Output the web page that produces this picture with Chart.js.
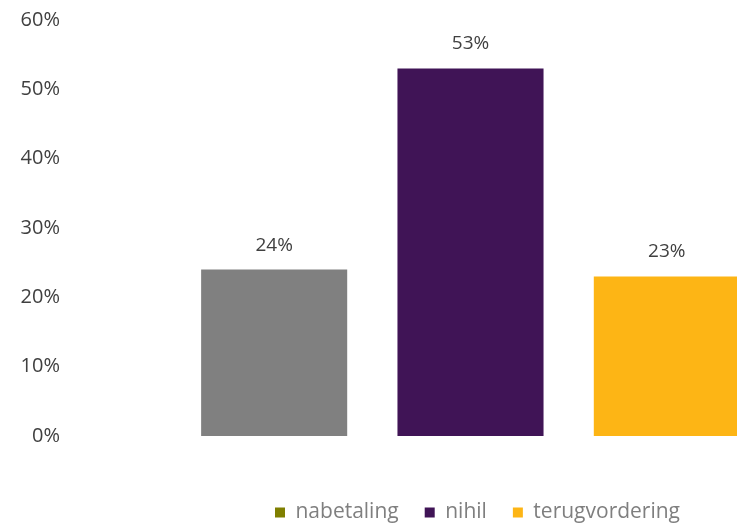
<!DOCTYPE html>
<html>
<head>
<meta charset="utf-8">
<script src="https://cdn.jsdelivr.net/npm/chart.js@4/dist/chart.umd.min.js"></script>
<style>
  html, body { margin: 0; padding: 0; background: #fff; overflow: hidden; }
  #wrap { width: 770px; height: 533px; }
</style>
</head>
<body>
<div id="wrap"><canvas id="chart1"></canvas></div>
<script>
// gegevens uit de figuur
const categories = ['nabetaling', 'nihil', 'terugvordering'];
const nabetaling = [24, null, null];
const nihil = [null, 53, null];
const terugvordering = [null, null, 23];
const yTicks = [0, 10, 20, 30, 40, 50, 60];

const barColors = ['#808080', '#401456', '#fdb515'];
const legendColors = ['#7f7f00', '#401456', '#fdb515'];

// labels boven de staven
const valueLabels = {
  id: 'valueLabels',
  afterDatasetsDraw(chart) {
    const ctx = chart.ctx;
    ctx.save();
    ctx.font = '19px "Open Sans", sans-serif';
    ctx.fillStyle = '#404040';
    ctx.textAlign = 'center';
    ctx.textBaseline = 'bottom';
    chart.data.datasets.forEach((ds, i) => {
      const meta = chart.getDatasetMeta(i);
      meta.data.forEach((bar, j) => {
        const v = ds.data[j];
        if (v === null || v === undefined) return;
        ctx.fillText(v + '%', bar.x, bar.y - 15);
      });
    });
    ctx.restore();
  }
};

// legenda staat onder het plotgebied, niet onder het hele canvas
const shiftLegend = {
  id: 'shiftLegend',
  afterLayout(chart) {
    chart.legend.left += 95;
    chart.legend.right += 95;
  }
};

const ctx = document.getElementById('chart1').getContext('2d');
new Chart(ctx, {
  type: 'bar',
  data: {
    labels: categories,
    datasets: [
      { label: 'nabetaling', data: nabetaling, backgroundColor: barColors[0] },
      { label: 'nihil', data: nihil, backgroundColor: barColors[1] },
      { label: 'terugvordering', data: terugvordering, backgroundColor: barColors[2] }
    ]
  },
  options: {
    responsive: true,
    maintainAspectRatio: false,
    animation: false,
    grouped: false,
    categoryPercentage: 1,
    barPercentage: 0.744,
    layout: { padding: { top: 20, right: 5, left: 0, bottom: 0 } },
    plugins: {
      tooltip: { enabled: false },
      legend: {
        position: 'bottom',
        labels: {
          boxWidth: 10,
          boxHeight: 10,
          padding: 26,
          color: '#7f7f7f',
          font: { family: '"Open Sans", sans-serif', size: 21 },
          generateLabels(chart) {
            return chart.data.datasets.map((ds, i) => ({
              text: ds.label,
              fillStyle: legendColors[i],
              strokeStyle: legendColors[i],
              lineWidth: 0,
              fontColor: '#7f7f7f',
              datasetIndex: i
            }));
          }
        }
      }
    },
    scales: {
      x: {
        grid: { display: false },
        border: { display: false },
        ticks: { display: false },
        afterFit(scale) { scale.height = 40; }
      },
      y: {
        min: 0,
        max: 60,
        afterBuildTicks(scale) { scale.ticks = yTicks.map(v => ({ value: v })); },
        grid: { display: false },
        border: { display: false },
        ticks: {
          padding: 108,
          color: '#404040',
          font: { family: '"Open Sans", sans-serif', size: 20 },
          callback: v => v + '%'
        },
        afterFit(scale) {
          scale.width = 176;
          scale.paddingTop = 0;
          scale.paddingBottom = 0;
        }
      }
    }
  },
  plugins: [valueLabels, shiftLegend]
});
</script>
</body>
</html>
